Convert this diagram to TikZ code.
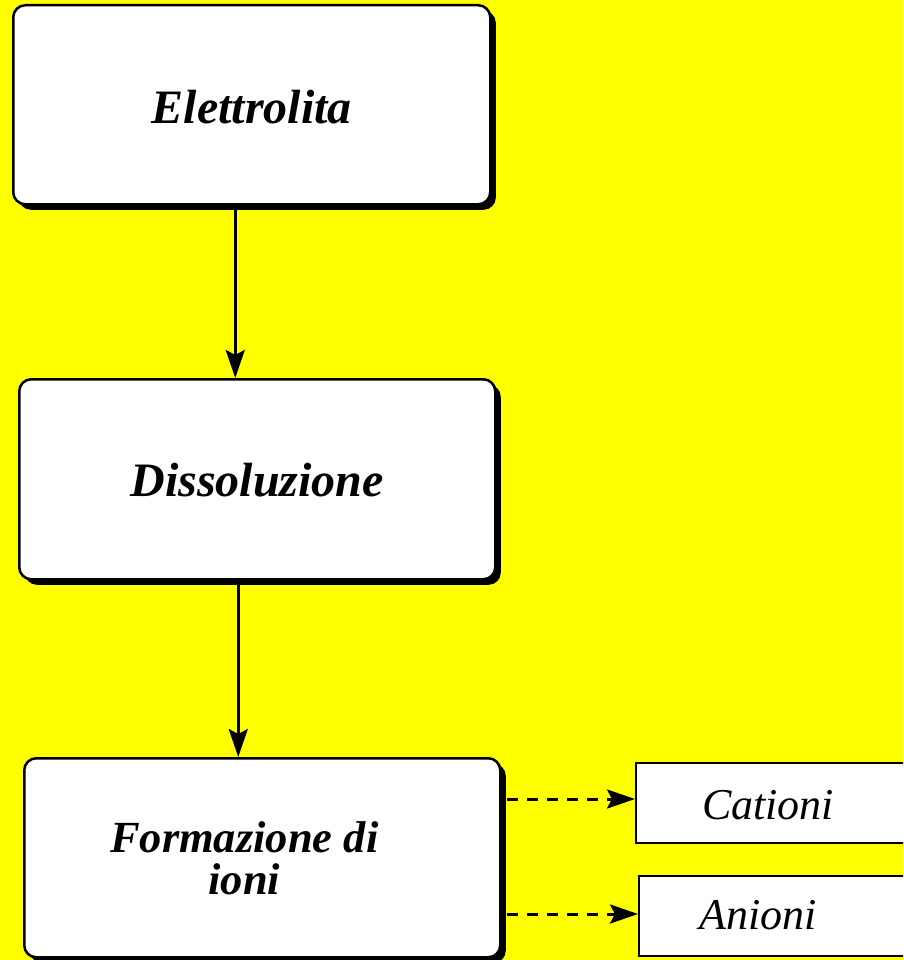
\documentclass[tikz,border=0pt]{standalone}
\usepackage{fontspec}
\setmainfont{Liberation Serif}
\usetikzlibrary{shadows,arrows.meta,calc}
\definecolor{bgyellow}{RGB}{255,255,0}
\tikzset{
  bigbox/.style={draw=black, line width=2.5pt, fill=white, rounded corners=12pt,
    minimum width=477pt, minimum height=199pt, anchor=north west,
    drop shadow={shadow xshift=5.5pt, shadow yshift=-5.5pt, fill=black, opacity=1}},
  smallbox/.style={draw=black, line width=1.8pt, fill=white, minimum width=320pt,
    minimum height=80pt, anchor=north west},
  bigtext/.style={font=\fontsize{48}{42}\selectfont\bfseries\itshape, align=center},
  smalltext/.style={font=\fontsize{44}{46}\selectfont\itshape},
  headtip/.style={-{Stealth[length=28pt,width=19pt,inset=5pt]}},
  arr/.style={line width=3pt, headtip},
  dasharr/.style={line width=3pt, dash pattern=on 11pt off 9pt, headtip}
}
\begin{document}
\begin{tikzpicture}[x=1pt,y=-1pt]
\fill[bgyellow] (0,0) rectangle (903,960);
\useasboundingbox (0,0) rectangle (903,960);
\clip (0,0) rectangle (903,960);
\node[bigbox] (e) at (12,4) {};
\node[bigbox, minimum width=476pt, minimum height=200pt] (d) at (18,378) {};
\node[bigbox, minimum width=476pt, minimum height=199pt] (f) at (23,757) {};
\node[bigtext, yshift=-2pt] (et) at (e.center) {Elettrolita};
\node[bigtext, yshift=-1pt] (dt) at (d.center) {Dissoluzione};
\node[bigtext, font=\fontsize{44.5}{42}\selectfont\bfseries\itshape, xshift=-18pt, yshift=-1pt] (ft) at (f.center) {Formazione di\\ioni};
\node[smallbox] (c) at (635,762) {};
\node[smallbox] (a) at (638,875) {};
\node[smalltext] (ct) at (768,805) {Cationi};
\node[smalltext] (at) at (758,915) {Anioni};
\draw[arr] ([xshift=-16.5pt]e.south) -- ([xshift=-16.5pt]e.south |- d.north);
\draw[arr] ([xshift=-19pt]d.south) -- ([xshift=-19pt]d.south |- f.north);
\coordinate (cs) at (507,799);
\coordinate (as) at (507,914);
\draw[dasharr] (cs) -- (cs -| c.west);
\draw[dasharr] (as) -- (as -| a.west);
\end{tikzpicture}
\end{document}
